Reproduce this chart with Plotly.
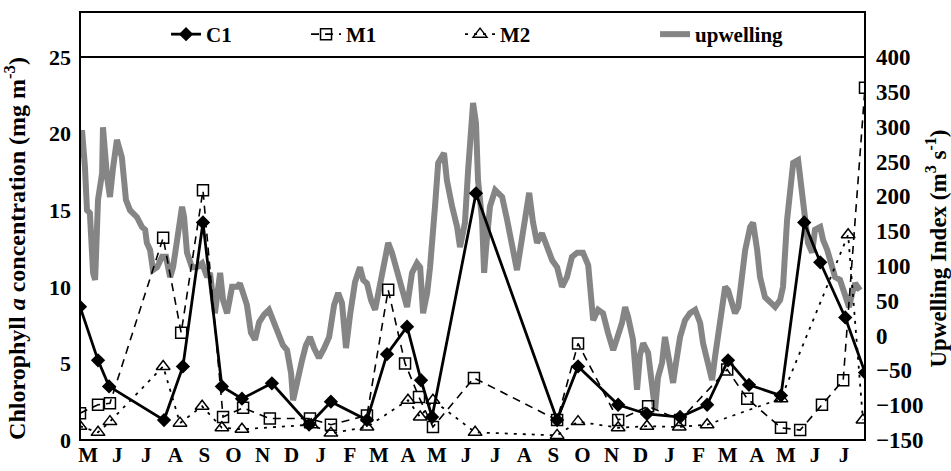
import plotly.graph_objects as go

# ---- data (x in months since 1 May of year 1) ----
month_labels = ["M","J","J","A","S","O","N","D","J","F","M","A",
                "M","J","J","A","S","O","N","D","J","F","M","A","M","J","J"]

c1_t = [0.00,0.62,1.00,2.89,3.54,4.23,4.88,5.57,6.60,7.88,8.63,9.87,10.56,11.25,11.73,
        12.11,13.62,16.41,17.13,18.51,19.50,20.64,21.57,22.29,23.01,24.11,24.91,25.46,26.32,27.00]
c1_v = [8.7,5.2,3.5,1.3,4.8,14.2,3.5,2.7,3.7,1.0,2.5,1.3,5.6,7.4,3.9,
        1.5,16.1,1.3,4.8,2.3,1.7,1.5,2.3,5.2,3.6,2.9,14.2,11.6,8.0,4.4]

m1_t = [0.00,0.62,1.03,2.86,3.48,4.23,4.92,5.61,6.53,7.91,8.63,9.87,10.60,11.18,11.66,
        12.14,13.55,16.41,17.13,18.51,19.54,20.64,22.26,22.95,24.11,24.77,25.52,26.25,27.00]
m1_v = [1.75,2.3,2.4,13.2,7.0,16.3,1.5,2.1,1.4,1.4,1.0,1.6,9.8,5.0,2.8,
        0.85,4.05,1.3,6.3,1.3,2.2,1.3,4.6,2.7,0.8,0.65,2.3,3.9,23.0]

m2_t = [0.00,0.62,1.03,2.86,3.44,4.20,4.88,5.57,7.95,8.63,9.87,11.28,11.70,12.14,
        13.59,16.41,17.13,18.51,19.50,20.61,21.57,24.11,26.42,26.93]
m2_v = [0.9,0.5,1.2,4.8,1.1,2.2,0.8,0.7,1.0,0.45,0.85,2.6,1.5,2.6,
        0.5,0.3,1.2,0.8,0.9,0.85,1.0,2.7,13.4,1.3]

up_t = [0.00,0.07,0.17,0.24,0.34,0.45,0.52,0.62,0.76,0.79,0.93,1.03,1.14,1.27,1.44,1.58,1.72,1.96,
        2.13,2.24,2.30,2.41,2.51,2.65,2.82,2.96,3.10,3.20,3.34,3.51,3.58,3.68,3.85,4.02,4.20,4.37,
        4.47,4.58,4.64,4.82,4.92,5.06,5.23,5.40,5.50,5.61,5.74,5.88,6.02,6.16,6.33,6.50,6.67,6.81,
        6.98,7.12,7.26,7.33,7.46,7.64,7.77,7.91,8.05,8.22,8.39,8.57,8.74,8.88,9.01,9.15,9.29,9.46,
        9.63,9.74,9.87,10.01,10.15,10.32,10.46,10.60,10.73,10.87,11.01,11.11,11.25,11.42,11.59,11.70,
        11.80,11.94,12.04,12.21,12.32,12.52,12.62,12.80,12.97,13.07,13.24,13.35,13.52,13.62,13.69,
        13.83,13.90,13.97,14.10,14.28,14.52,14.69,14.86,15.03,15.14,15.31,15.45,15.58,15.72,15.89,
        16.06,16.24,16.41,16.58,16.75,16.92,17.10,17.30,17.48,17.58,17.65,17.82,17.99,18.16,18.34,
        18.51,18.64,18.75,18.85,19.02,19.16,19.26,19.37,19.54,19.68,19.78,19.88,20.02,20.12,20.23,
        20.40,20.50,20.64,20.81,20.98,21.16,21.33,21.43,21.57,21.74,21.84,21.95,22.08,22.19,22.29,
        22.43,22.53,22.64,22.77,22.88,23.05,23.15,23.29,23.39,23.56,23.74,23.91,24.08,24.18,24.32,
        24.42,24.53,24.70,24.84,24.94,25.04,25.18,25.28,25.46,25.56,25.70,25.80,25.97,26.14,26.32,
        26.45,26.56,26.66,26.83]
up_v = [255,295,242,180,176,90,80,195,233,299,228,199,242,281,256,195,180,170,
        156,152,133,123,94,98,113,113,84,98,137,185,170,119,98,98,104,84,
        90,61,32,90,51,32,70,70,75,61,44,4,-6,19,30,37,19,1,
        -14,-21,-54,-93,-64,-35,-14,-2,-18,-32,-19,-2,44,61,47,-18,30,77,
        98,80,75,51,37,73,108,133,119,97,80,61,41,90,104,98,
        32,61,98,185,248,262,223,185,156,127,162,238,334,305,223,
        166,90,127,185,209,199,166,133,94,123,173,205,163,133,147,
        127,108,98,70,84,113,119,119,101,55,22,37,32,4,-21,
        1,18,41,27,-6,-78,-28,-11,-25,-78,-107,-60,-39,-2,-31,
        -68,-39,-2,22,32,37,18,-11,-39,-64,-31,-2,41,70,65,
        47,32,41,84,123,156,162,123,84,55,47,41,51,70,166,
        213,248,252,195,170,133,119,152,156,137,123,108,84,80,55,
        41,61,75,65]

FONT = "Liberation Serif"

fig = go.Figure()
fig.add_trace(go.Scatter(x=c1_t, y=c1_v, name="C1", yaxis="y2", mode="lines+markers",
                         legendwidth=95,
                         line=dict(color="black", width=2.8),
                         marker=dict(symbol="diamond", size=11, color="black")))
fig.add_trace(go.Scatter(x=m1_t, y=m1_v, name="M1", yaxis="y2", mode="lines+markers",
                         legendwidth=109,
                         line=dict(color="black", width=1.6, dash="8px,6px"),
                         marker=dict(symbol="square-open", size=11, color="black",
                                     line=dict(width=1.5))))
fig.add_trace(go.Scatter(x=m2_t, y=m2_v, name="M2", yaxis="y2", mode="lines+markers",
                         legendwidth=150,
                         line=dict(color="black", width=1.8, dash="3px,6px"),
                         marker=dict(symbol="triangle-up-open", size=12, color="black",
                                     line=dict(width=1.5))))
fig.add_trace(go.Scatter(x=up_t, y=up_v, name="upwelling", yaxis="y", mode="lines",
                         legendwidth=130,
                         line=dict(color="#858585", width=6)))

top_ext = 45 / 383
fig.update_layout(
    width=951, height=471,
    margin=dict(l=80, r=86, t=57, b=31, autoexpand=False),
    paper_bgcolor="white", plot_bgcolor="white",
    font=dict(family=FONT, size=18, color="black"),
    showlegend=True,
    hovermode=False,
    legend=dict(orientation="h", x=0.1096, y=1 + top_ext / 2, xanchor="left", yanchor="middle",
                font=dict(family=FONT, size=21, color="black", weight="bold"),
                bgcolor="rgba(0,0,0,0)"),
    xaxis=dict(range=[0, 27], showgrid=False, zeroline=False, showline=False,
               tickvals=[k + 0.28 for k in range(len(month_labels))], ticktext=month_labels,
               ticks="", tickfont=dict(family=FONT, size=21, weight="bold")),
    yaxis=dict(range=[-150, 400], side="right", showgrid=False, zeroline=False, showline=False,
               tickvals=list(range(-150, 401, 50)), ticks="", ticklabelstandoff=10,
               tickfont=dict(family=FONT, size=23, weight="bold"),
               title=dict(text="Upwelling Index (m<sup>3</sup> s<sup>-1</sup>)",
                          font=dict(family=FONT, size=23, weight="bold"), standoff=12)),
    yaxis2=dict(range=[0, 25], side="left", overlaying="y", showgrid=False, zeroline=False,
                showline=False, tickvals=[0, 5, 10, 15, 20, 25], ticks="", ticklabelstandoff=8,
                tickfont=dict(family=FONT, size=22, weight="bold"),
                title=dict(text="Chlorophyll <i>a</i> concentration (mg m<sup>-3</sup>)",
                           font=dict(family=FONT, size=24, weight="bold"), standoff=16)),
    shapes=[
        dict(type="rect", xref="paper", yref="paper", x0=0, x1=1, y0=0, y1=1 + top_ext,
             line=dict(color="black", width=2)),
        dict(type="line", xref="paper", yref="paper", x0=0, x1=1, y0=1, y1=1,
             line=dict(color="black", width=2)),
    ],
)

fig.write_html("out.html", config={"displayModeBar": False},
               post_script="document.body.style.margin='0';")
